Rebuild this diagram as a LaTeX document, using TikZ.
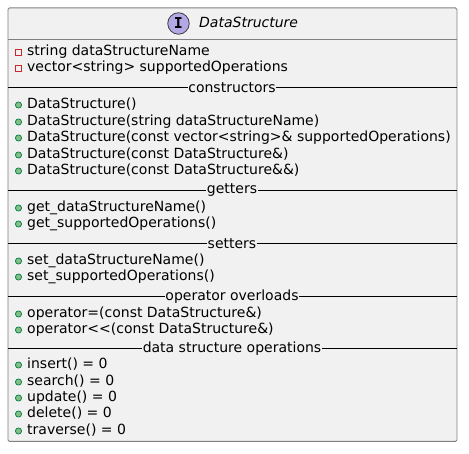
\documentclass[tikz,border=0pt]{standalone}
\usepackage{fontspec}
\setmainfont{DejaVu Sans}[Ligatures=NoCommon]
\definecolor{boxfill}{HTML}{F1F1F1}
\definecolor{boxline}{HTML}{808080}
\definecolor{pubfill}{HTML}{84BE84}
\definecolor{publine}{HTML}{038048}
\definecolor{privline}{HTML}{C82930}
\definecolor{iface}{HTML}{B4A7E5}
\tikzset{
  x=1pt,y=-1pt,
  umlbox/.style={draw=boxline,fill=boxfill,line width=0.9pt},
  member/.style={anchor=base west,inner sep=0pt,font=\fontsize{14}{14}\selectfont,text=black},
  seplabel/.style={fill=boxfill,inner xsep=0.5pt,inner ysep=1pt,font=\fontsize{14}{14}\selectfont,text=black},
  sepline/.style={draw=black,line width=0.7pt},
  pubmark/.style={circle,draw=publine,fill=pubfill,line width=0.7pt,minimum size=6.2pt,inner sep=0pt},
  privmark/.style={rectangle,draw=privline,line width=0.7pt,minimum size=6pt,inner sep=0pt},
  ifacecirc/.style={circle,draw=black!75,fill=iface,line width=0.8pt,minimum size=21.5pt,inner sep=0pt},
}
\newcommand{\pubm}[3]{\node[pubmark] (m#1) at (18.5,#2-4) {};\node[member] (t#1) at (27,#2) {#3};}
\newcommand{\privm}[3]{\node[privmark] (m#1) at (18.5,#2-4) {};\node[member] (t#1) at (27,#2) {#3};}
\newcommand{\sepm}[3]{\coordinate (l#1) at (7.5,#2);\coordinate (r#1) at (456.5,#2);\draw[sepline] (l#1) -- (r#1);\node[seplabel] (s#1) at (232,#2) {#3};}
\begin{document}
\begin{tikzpicture}
\useasboundingbox (0,0) rectangle (469,454);
\node[umlbox,minimum width=449pt,minimum height=433.5pt,inner sep=0pt,anchor=north west,rounded corners=1.5pt] (box) at (7.5,7.5) {};
\node[ifacecirc] (icon) at (178.5,23.5) {\fontsize{15}{15}\selectfont\ttfamily\fontspec{DejaVu Sans Mono Bold}I};
\node[anchor=base west,inner sep=0pt,font=\fontsize{14}{14}\selectfont\itshape] (title) at (199,28) {DataStructure};
\coordinate (hl) at (7.5,39.5);\coordinate (hr) at (456.5,39.5);
\draw[draw=boxline,line width=0.9pt] (hl) -- (hr);
\privm{a}{56}{string dataStructureName}
\privm{b}{72}{vector<string> supportedOperations}
\sepm{c}{87.5}{constructors}
\pubm{d}{109}{DataStructure()}
\pubm{e}{126}{DataStructure(string dataStructureName)}
\pubm{f}{142}{DataStructure(const vector<string>\& supportedOperations)}
\pubm{g}{159}{DataStructure(const DataStructure\&)}
\pubm{h}{175}{DataStructure(const DataStructure\&\&)}
\sepm{i}{190.5}{getters}
\pubm{j}{212}{get\_dataStructureName()}
\pubm{k}{228}{get\_supportedOperations()}
\sepm{l}{243.5}{setters}
\pubm{m}{265}{set\_dataStructureName()}
\pubm{n}{281}{set\_supportedOperations()}
\sepm{o}{296.5}{operator overloads}
\pubm{p}{318}{operator=(const DataStructure\&)}
\pubm{q}{334}{operator<{}<(const DataStructure\&)}
\sepm{r}{348.5}{data structure operations}
\pubm{s}{369}{insert() = 0}
\pubm{t}{386}{search() = 0}
\pubm{u}{402}{update() = 0}
\pubm{v}{418}{delete() = 0}
\pubm{w}{435}{traverse() = 0}
\end{tikzpicture}
\end{document}
